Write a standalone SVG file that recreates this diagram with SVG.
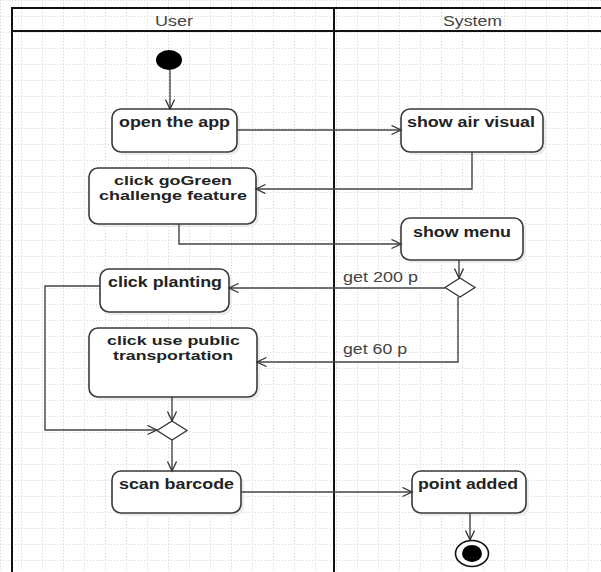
<svg xmlns="http://www.w3.org/2000/svg" width="601" height="572" viewBox="0 0 601 572">
<defs>
<pattern id="grid" width="21" height="16" patternUnits="userSpaceOnUse">
<path d="M0 0.5H21M0.5 0V16" fill="none" stroke="#d4d4d4" stroke-width="1" stroke-dasharray="1 2"/>
</pattern>
<marker id="arr" markerUnits="userSpaceOnUse" markerWidth="12" markerHeight="12" refX="10" refY="5" orient="auto">
<path d="M0.5 0.5L10 5L0.5 9.5" fill="none" stroke="#333" stroke-width="1.3"/>
</marker>
</defs>
<style>
.frame{fill:none;stroke:#111;stroke-width:2}
.box{fill:#fff;stroke:#3a3a3a;stroke-width:1.6}
.shadow{fill:#ececec}
.lbl{font-family:"Liberation Sans",Arial,sans-serif;font-size:14px;font-weight:bold;fill:#222}
.lbl2{font-family:"Liberation Sans",Arial,sans-serif;font-size:13px;font-weight:bold;fill:#222}
.hdr{font-family:"Liberation Sans",Arial,sans-serif;font-size:15px;fill:#444}
.cl{font-family:"Liberation Sans",Arial,sans-serif;font-size:14px;fill:#444}
.con{fill:none;stroke:#444;stroke-width:1.4;marker-end:url(#arr)}
.dia{fill:#fff;stroke:#333;stroke-width:1.3}
</style>
<rect width="601" height="572" fill="#fff"/>
<rect width="601" height="572" fill="url(#grid)"/>

<g id="lanes">
<path class="frame" d="M12 572V8H601M12 31H601M334 8V572"/>
<text class="hdr" x="155" y="26" textLength="38" lengthAdjust="spacingAndGlyphs">User</text>
<text class="hdr" x="443" y="26" textLength="59" lengthAdjust="spacingAndGlyphs">System</text>
</g>

<g id="start">
<ellipse cx="169" cy="60" rx="13" ry="10" fill="#000"/>
</g>

<g id="open-app">
<rect class="shadow" x="115" y="112" width="125" height="43" rx="9"/>
<rect class="box" x="112" y="109" width="125" height="43" rx="9"/>
<text class="lbl" x="119" y="127" textLength="111" lengthAdjust="spacingAndGlyphs">open the app</text>
</g>

<g id="show-air-visual">
<rect class="shadow" x="404" y="112" width="142" height="43" rx="9"/>
<rect class="box" x="401" y="109" width="142" height="43" rx="9"/>
<text class="lbl" x="407" y="127" textLength="128" lengthAdjust="spacingAndGlyphs">show air visual</text>
</g>

<g id="click-gogreen">
<rect class="shadow" x="92" y="171" width="167" height="56" rx="9"/>
<rect class="box" x="89" y="168" width="167" height="56" rx="9"/>
<text class="lbl2" x="114" y="185" textLength="118" lengthAdjust="spacingAndGlyphs">click goGreen</text>
<text class="lbl2" x="99" y="200" textLength="148" lengthAdjust="spacingAndGlyphs">challenge feature</text>
</g>

<g id="show-menu">
<rect class="shadow" x="404" y="221" width="122" height="42" rx="9"/>
<rect class="box" x="401" y="218" width="122" height="42" rx="9"/>
<text class="lbl" x="413" y="237" textLength="98" lengthAdjust="spacingAndGlyphs">show menu</text>
</g>

<g id="decision">
<polygon class="dia" points="460,278 475,287.5 460,297 445,287.5"/>
</g>

<g id="click-planting">
<rect class="shadow" x="103" y="272" width="129" height="43" rx="9"/>
<rect class="box" x="100" y="269" width="129" height="43" rx="9"/>
<text class="lbl" x="108" y="287" textLength="114" lengthAdjust="spacingAndGlyphs">click planting</text>
</g>

<g id="click-public-transport">
<rect class="shadow" x="92" y="331" width="168" height="69" rx="9"/>
<rect class="box" x="89" y="328" width="168" height="69" rx="9"/>
<text class="lbl2" x="107" y="345" textLength="133" lengthAdjust="spacingAndGlyphs">click use public</text>
<text class="lbl2" x="113" y="360" textLength="120" lengthAdjust="spacingAndGlyphs">transportation</text>
</g>

<g id="merge">
<polygon class="dia" points="172,421 187,430.5 172,440 157,430.5"/>
</g>

<g id="scan-barcode">
<rect class="shadow" x="115" y="474" width="129" height="42" rx="9"/>
<rect class="box" x="112" y="471" width="129" height="42" rx="9"/>
<text class="lbl" x="119" y="489" textLength="115" lengthAdjust="spacingAndGlyphs">scan barcode</text>
</g>

<g id="point-added">
<rect class="shadow" x="415" y="474" width="114" height="42" rx="9"/>
<rect class="box" x="412" y="471" width="114" height="42" rx="9"/>
<text class="lbl" x="418" y="489" textLength="100" lengthAdjust="spacingAndGlyphs">point added</text>
</g>

<g id="end">
<ellipse cx="472" cy="553.5" rx="16.5" ry="13" fill="#fff" stroke="#111" stroke-width="1.6"/>
<ellipse cx="472" cy="553.5" rx="10" ry="8.5" fill="#000"/>
</g>

<g id="connectors">
<path class="con" d="M170 70V109"/>
<path class="con" d="M237 130H401"/>
<path class="con" d="M472 152V189H256"/>
<path class="con" d="M179 224V244H401"/>
<path class="con" d="M459 260V278"/>
<path class="con" d="M445 288H229"/>
<path class="con" d="M458 297V362H257"/>
<path class="con" d="M100 286H45V430H157"/>
<path class="con" d="M172 397V421"/>
<path class="con" d="M172 440V471"/>
<path class="con" d="M241 492H412"/>
<path class="con" d="M470 513V540"/>
<text class="cl" x="343" y="282" textLength="75" lengthAdjust="spacingAndGlyphs">get 200 p</text>
<text class="cl" x="343" y="354" textLength="64" lengthAdjust="spacingAndGlyphs">get 60 p</text>
</g>
</svg>
